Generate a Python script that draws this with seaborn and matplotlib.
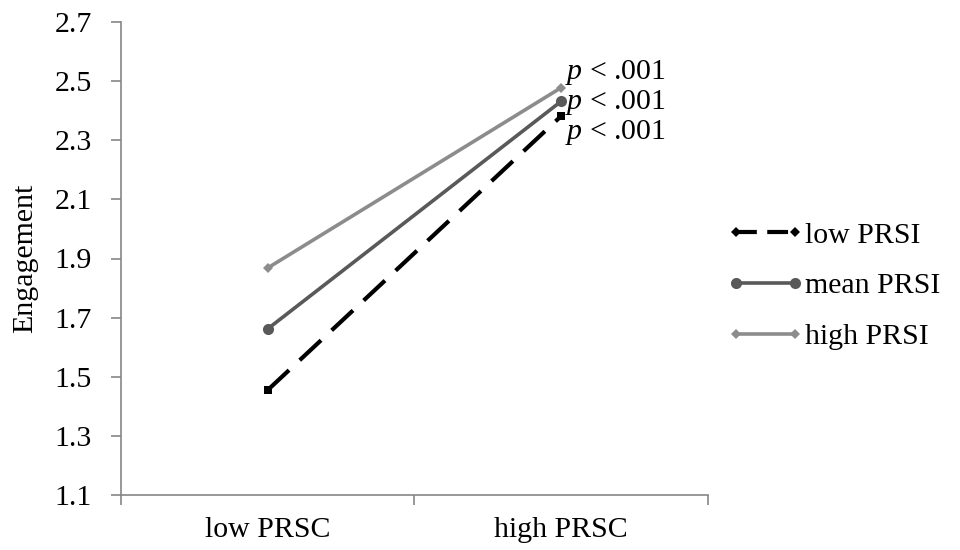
import matplotlib
matplotlib.use("Agg")
import matplotlib.pyplot as plt
import seaborn as sns
import pandas as pd
from matplotlib.lines import Line2D

categories = ["low PRSC", "high PRSC"]
series = ["low PRSI", "mean PRSI", "high PRSI"]
low_prsi = [1.455, 2.382]
mean_prsi = [1.662, 2.432]
high_prsi = [1.868, 2.478]
p_labels = ["p < .001", "p < .001", "p < .001"]
yticks = [1.1, 1.3, 1.5, 1.7, 1.9, 2.1, 2.3, 2.5, 2.7]

sns.set_theme(style="white")
plt.rcParams["font.family"] = ["Liberation Serif", "DejaVu Serif"]
plt.rcParams["mathtext.fontset"] = "custom"
plt.rcParams["mathtext.rm"] = "Liberation Serif"
plt.rcParams["mathtext.it"] = "Liberation Serif:italic"
plt.rcParams["text.color"] = "black"
plt.rcParams["axes.labelcolor"] = "black"
plt.rcParams["xtick.color"] = "black"
plt.rcParams["ytick.color"] = "black"

rows = []
for name, vals in zip(series, [low_prsi, mean_prsi, high_prsi]):
    for c, v in zip(categories, vals):
        rows.append({"PRSC": c, "Engagement": v, "PRSI": name})
df = pd.DataFrame(rows)

colors = {"low PRSI": "#000000", "mean PRSI": "#595959", "high PRSI": "#8c8c8c"}
markers = {"low PRSI": "s", "mean PRSI": "o", "high PRSI": "D"}
msizes = {"low PRSI": 6, "mean PRSI": 8, "high PRSI": 5}

fig = plt.figure(figsize=(9.6, 5.5), dpi=100)
ax = fig.add_axes([0.126, 0.1, 0.6115, 0.86])

for name in series:
    sub = df[df["PRSI"] == name]
    sns.lineplot(data=sub, x="PRSC", y="Engagement", ax=ax, color=colors[name],
                 marker=markers[name], markersize=msizes[name], markeredgewidth=0,
                 linewidth=3 if name == "low PRSI" else 2.6,
                 legend=False, sort=False)
    if name == "low PRSI":
        ax.lines[-1].set_dashes((7, 3.5))

ax.set_xlim(-0.5, 1.5)
ax.set_ylim(1.1, 2.7)
ax.set_yticks(yticks)
ax.set_yticklabels([f"{t:.1f}" for t in yticks])
ax.set_xticks([0, 1])
ax.set_xticklabels(categories)
ax.set_xticks([-0.5, 0.5, 1.5], minor=True)
ax.tick_params(axis="x", which="major", length=0, pad=16, labelsize=21.5, labelcolor="black")
ax.tick_params(axis="x", which="minor", length=7, width=1.2, color="#868686", direction="out", bottom=True)
ax.tick_params(axis="y", length=7, width=1.2, color="#868686", direction="out", left=True,
               labelsize=21.5, pad=14, labelcolor="black")
ax.set_xlabel("")
ax.set_ylabel("Engagement", fontsize=21.5, labelpad=12, color="black")

for s in ["top", "right"]:
    ax.spines[s].set_visible(False)
for s in ["left", "bottom"]:
    ax.spines[s].set_color("#868686")
    ax.spines[s].set_linewidth(1.2)

label_y = [2.325, 2.428, 2.53]
for lab, yy in zip(p_labels, label_y):
    ax.text(1.012, yy, r"$\mathit{p}$" + lab[1:], fontsize=21.5, va="center", ha="left", color="black")

handles = [
    Line2D([0], [0], color="#000000", lw=3, dashes=(5, 2.5), marker="D", markersize=5, markeredgewidth=0),
    Line2D([0], [0], color="#595959", lw=2.6, marker="o", markersize=8, markeredgewidth=0),
    Line2D([0], [0], color="#8c8c8c", lw=2.6, marker="D", markersize=5, markeredgewidth=0),
]
leg = fig.legend(handles, series, loc="center left", bbox_to_anchor=(0.757, 0.48), frameon=False,
                 fontsize=21.5, numpoints=2, handlelength=2.6, handletextpad=0.02, labelspacing=0.8,
                 borderaxespad=0, borderpad=0)
for t in leg.get_texts():
    t.set_color("black")

fig.savefig("out.png", dpi=100)
